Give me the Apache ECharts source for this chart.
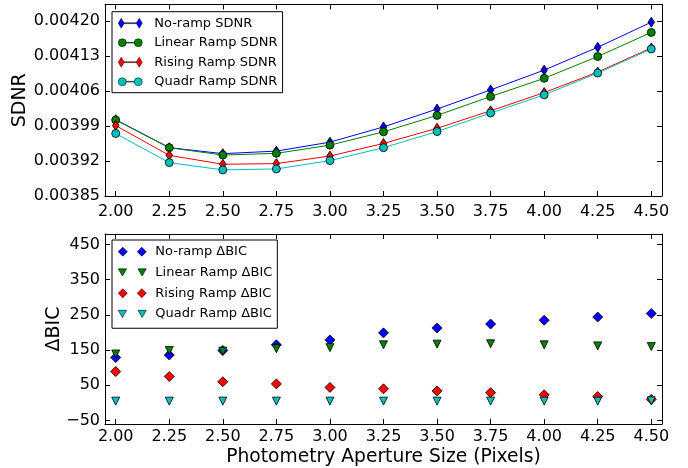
<!DOCTYPE html>
<html>
    <head>
        <meta charset="utf-8">
        <title></title>
        <style>
            html, body{
                margin: 0;
                padding: 0;
                background: #fff;
            }
            #div{
                width: 688px;
                height: 468px;
            }
        </style>
    </head>
    <body>
        <div id="div"></div>
        <script src="https://cdn.jsdelivr.net/npm/echarts@6/dist/echarts.min.js"></script>
        <script>
            // aperture sizes (pixels)
            var aperture = [2.00, 2.25, 2.50, 2.75, 3.00, 3.25, 3.50, 3.75, 4.00, 4.25, 4.50];

            // SDNR, top panel
            var sdnrNoRamp = [0.0040027, 0.0039466, 0.0039347, 0.0039398, 0.0039577, 0.0039882, 0.0040239, 0.0040622, 0.0041018, 0.0041475, 0.0041976];
            var sdnrLinear = [0.0040020, 0.0039466, 0.0039319, 0.0039353, 0.0039517, 0.0039783, 0.0040112, 0.0040489, 0.0040854, 0.0041290, 0.0041772];
            var sdnrRising = [0.0039908, 0.0039313, 0.0039135, 0.0039148, 0.0039299, 0.0039551, 0.0039854, 0.0040205, 0.0040568, 0.0040979, 0.0041461];
            var sdnrQuadr  = [0.0039749, 0.0039168, 0.0039022, 0.0039041, 0.0039208, 0.0039466, 0.0039789, 0.0040160, 0.0040523, 0.0040959, 0.0041441];

            // delta BIC, bottom panel
            var bicNoRamp = [129, 136, 149, 165, 179, 199, 213, 224, 235, 244, 254];
            var bicLinear = [139, 149, 147, 154, 157, 165, 167, 168, 165, 162, 160];
            var bicRising = [89, 75, 60, 54, 44, 40, 34, 29, 23, 18, 10];
            var bicQuadr  = [5, 5, 5, 5, 5, 5, 5, 5, 5, 5, 6];

            // tick labels
            var xTicks = [2.00, 2.25, 2.50, 2.75, 3.00, 3.25, 3.50, 3.75, 4.00, 4.25, 4.50];
            var sdnrTicks = [0.00385, 0.00392, 0.00399, 0.00406, 0.00413, 0.00420];
            var bicTicks = [-50, 50, 150, 250, 350, 450];

            function pairs(xs, ys){
                var out = [];
                for(var i = 0; i < xs.length; i++){
                    out.push([xs[i], ys[i]]);
                }
                return out;
            }

            var font = 'DejaVu Sans';
            var blue = '#0000ff', green = '#008000', red = '#ff0000', cyan = '#00bfbf';

            // legend icons: two markers joined by a line (top), two markers (bottom)
            var iconThin = 'path://M3 0L6 5L3 10L0 5Z M21 0L24 5L21 10L18 5Z M6 4.6L18 4.6L18 5.4L6 5.4Z';
            var iconCircle = 'path://M0 4A4 4 0 1 0 8 4A4 4 0 1 0 0 4Z M16 4A4 4 0 1 0 24 4A4 4 0 1 0 16 4Z M8 3.6L16 3.6L16 4.4L8 4.4Z';
            var iconDiamond = 'path://M4.5 0L9 4.5L4.5 9L0 4.5Z M23.5 0L28 4.5L23.5 9L19 4.5Z';
            var iconTri = 'path://M0 0L8 0L4 7Z M19 0L27 0L23 7Z';

            function xAxisOf(grid, pos, showLabel){
                var ax = {
                    type: 'value',
                    gridIndex: grid,
                    position: pos,
                    min: 1.95,
                    max: 4.55,
                    axisLine: {onZero: false, lineStyle: {color: '#000', width: 1}},
                    axisTick: {inside: true, length: 5, customValues: xTicks, lineStyle: {color: '#000'}},
                    axisLabel: {
                        show: showLabel,
                        customValues: xTicks,
                        margin: grid === 0 ? 8 : 5,
                        color: '#000',
                        fontFamily: font,
                        fontSize: 16,
                        formatter: function(v){ return v.toFixed(2); }
                    },
                    splitLine: {show: false}
                };
                return ax;
            }

            function yAxisOf(grid, pos, min, max, ticks, fmt, showLabel, name, gap){
                return {
                    type: 'value',
                    gridIndex: grid,
                    position: pos,
                    min: min,
                    max: max,
                    name: name,
                    nameLocation: 'middle',
                    nameGap: gap,
                    nameMoveOverlap: false,
                    nameTextStyle: {color: '#000', fontFamily: font, fontSize: 19},
                    axisLine: {onZero: false, lineStyle: {color: '#000', width: 1}},
                    axisTick: {inside: true, length: 5, customValues: ticks, lineStyle: {color: '#000'}},
                    axisLabel: {
                        show: showLabel,
                        customValues: ticks,
                        margin: 5,
                        color: '#000',
                        fontFamily: font,
                        fontSize: 16,
                        formatter: fmt
                    },
                    splitLine: {show: false}
                };
            }

            var xBottom = xAxisOf(1, 'bottom', true);
            xBottom.name = 'Photometry Aperture Size (Pixels)';
            xBottom.nameLocation = 'middle';
            xBottom.nameGap = 24;
            xBottom.nameTextStyle = {color: '#000', fontFamily: font, fontSize: 18.7};

            var sdnrFmt = function(v){ return v.toFixed(5); };
            var bicFmt = function(v){ return String(v).replace('-', '\u2212'); };

            var border = {borderColor: '#000', borderWidth: 0.8};

            function lineSeries(name, ys, color, symbol, size){
                return {
                    name: name,
                    type: 'line',
                    xAxisIndex: 0,
                    yAxisIndex: 0,
                    data: pairs(aperture, ys),
                    symbol: symbol,
                    symbolSize: size,
                    showAllSymbol: true,
                    lineStyle: {color: color, width: 1},
                    itemStyle: Object.assign({color: color}, border)
                };
            }

            function dotSeries(name, ys, color, symbol, size, rot){
                return {
                    name: name,
                    type: 'scatter',
                    xAxisIndex: 1,
                    yAxisIndex: 1,
                    data: pairs(aperture, ys),
                    symbol: symbol,
                    symbolSize: size,
                    symbolRotate: rot,
                    itemStyle: Object.assign({color: color, opacity: 1}, border)
                };
            }

            var chartDom = document.getElementById('div');
            var myChart = echarts.init(chartDom);
            var option;

            option = {
                animation: false,
                backgroundColor: '#fff',
                grid: [
                    {left: 105, right: 26, top: 4.5, height: 191.5},
                    {left: 105, right: 26, top: 234, height: 190}
                ],
                xAxis: [
                    xAxisOf(0, 'bottom', true),
                    xBottom,
                    xAxisOf(0, 'top', false),
                    xAxisOf(1, 'top', false)
                ],
                yAxis: [
                    yAxisOf(0, 'left', 0.00385, 0.004233, sdnrTicks, sdnrFmt, true, 'SDNR', 75),
                    yAxisOf(1, 'left', -60, 480, bicTicks, bicFmt, true, '\u0394BIC', 41),
                    yAxisOf(0, 'right', 0.00385, 0.004233, sdnrTicks, sdnrFmt, false, '', 0),
                    yAxisOf(1, 'right', -60, 480, bicTicks, bicFmt, false, '', 0)
                ],
                legend: [
                    {
                        orient: 'vertical',
                        left: 112,
                        top: 11.7,
                        padding: [4.5, 5, 4, 6],
                        itemGap: 5.5,
                        itemWidth: 24,
                        itemHeight: 10,
                        symbolKeepAspect: true,
                        borderColor: '#000',
                        borderWidth: 1,
                        borderRadius: 0,
                        backgroundColor: '#fff',
                        itemStyle: {borderColor: '#000', borderWidth: 0.5},
                        textStyle: {color: '#000', fontFamily: font, fontSize: 13, lineHeight: 14, padding: [0, 0, 0, 7]},
                        data: [
                            {name: 'No-ramp SDNR', icon: iconThin},
                            {name: 'Linear Ramp SDNR', icon: iconCircle},
                            {name: 'Rising Ramp SDNR', icon: iconThin},
                            {name: 'Quadr Ramp SDNR', icon: iconCircle}
                        ]
                    },
                    {
                        orient: 'vertical',
                        left: 112,
                        top: 240,
                        padding: [4.7, 5, 7.3, 6],
                        itemGap: 6.75,
                        itemWidth: 28,
                        itemHeight: 9,
                        symbolKeepAspect: true,
                        borderColor: '#000',
                        borderWidth: 1,
                        borderRadius: 0,
                        backgroundColor: '#fff',
                        itemStyle: {borderColor: '#000', borderWidth: 0.6},
                        textStyle: {color: '#000', fontFamily: font, fontSize: 13, lineHeight: 14, padding: [0, 0, 0, 4]},
                        data: [
                            {name: 'No-ramp \u0394BIC', icon: iconDiamond},
                            {name: 'Linear Ramp \u0394BIC', icon: iconTri},
                            {name: 'Rising Ramp \u0394BIC', icon: iconDiamond},
                            {name: 'Quadr Ramp \u0394BIC', icon: iconTri}
                        ]
                    }
                ],
                series: [
                    lineSeries('No-ramp SDNR', sdnrNoRamp, blue, 'diamond', [6.5, 10]),
                    lineSeries('Linear Ramp SDNR', sdnrLinear, green, 'circle', 8),
                    lineSeries('Rising Ramp SDNR', sdnrRising, red, 'diamond', [6.5, 10]),
                    lineSeries('Quadr Ramp SDNR', sdnrQuadr, cyan, 'circle', 8),
                    dotSeries('No-ramp \u0394BIC', bicNoRamp, blue, 'diamond', 10, 0),
                    dotSeries('Linear Ramp \u0394BIC', bicLinear, green, 'triangle', 8, 180),
                    dotSeries('Rising Ramp \u0394BIC', bicRising, red, 'diamond', 10, 0),
                    dotSeries('Quadr Ramp \u0394BIC', bicQuadr, cyan, 'triangle', 8, 180)
                ]
            };

            option && myChart.setOption(option);
        </script>
    </body>
</html>
